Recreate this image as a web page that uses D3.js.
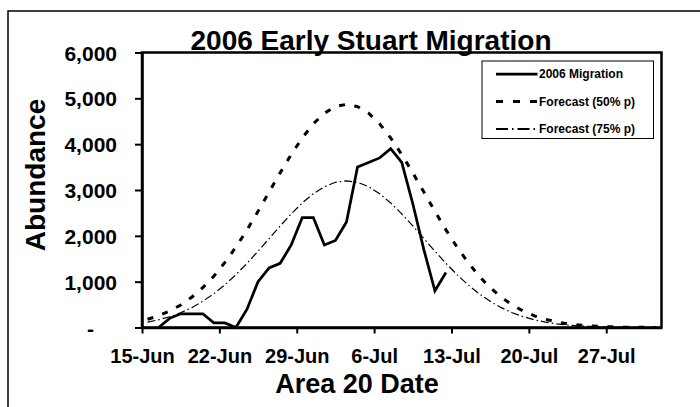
<!DOCTYPE html>
<html><head><meta charset="utf-8">
<script src="https://cdn.jsdelivr.net/npm/d3@7"></script>
<style>
html,body{margin:0;padding:0;background:#fff;}
svg{display:block;font-family:"Liberation Sans",Arial,Helvetica,sans-serif;}
</style></head>
<body><svg id="chart" width="700" height="407"></svg>
<script>
// ---- data ----
const migrationDates = ["2006-06-16","2006-06-17","2006-06-18","2006-06-19","2006-06-20","2006-06-21","2006-06-22","2006-06-23","2006-06-24","2006-06-25","2006-06-26","2006-06-27","2006-06-28","2006-06-29","2006-06-30","2006-07-01","2006-07-02","2006-07-03","2006-07-04","2006-07-05","2006-07-06","2006-07-07","2006-07-08","2006-07-09","2006-07-10","2006-07-11","2006-07-12"];
const migrationValues = [0,200,300,300,300,100,100,0,400,1000,1300,1400,1800,2400,2400,1800,1900,2300,3500,3600,3700,3900,3600,2700,1700,800,1200];
const forecastStart = "2006-06-15";
const forecastEnd = "2006-08-01";
const forecast50 = [180,255,360,490,660,870,1120,1420,1755,2130,2535,2955,3375,3775,4135,4445,4675,4820,4870,4820,4675,4445,4135,3775,3375,2955,2535,2130,1755,1420,1120,870,660,490,360,255,180,120,80,55,35,22,14,8,5,3,2];
const forecast75 = [117,168,235,322,433,571,736,931,1153,1400,1665,1941,2216,2479,2718,2919,3072,3168,3200,3168,3072,2919,2718,2479,2216,1941,1665,1400,1153,931,736,571,433,322,235,168,117,80,54,36,23,14,9,5,3,2,1];
const xTickDates = ["2006-06-15","2006-06-22","2006-06-29","2006-07-06","2006-07-13","2006-07-20","2006-07-27"];
const xTickLabels = ["15-Jun","22-Jun","29-Jun","6-Jul","13-Jul","20-Jul","27-Jul"];
const yTickValues = [0,1000,2000,3000,4000,5000,6000];
const seriesNames = ["2006 Migration","Forecast (50% p)","Forecast (75% p)"];
const chartTitle = "2006 Early Stuart Migration";
const xTitle = "Area 20 Date";
const yTitle = "Abundance";

// ---- layout ----
const svg = d3.select("#chart");
const L = 142, R = 661.5, T = 52.5, B = 327.5;
const parse = d3.utcParse("%Y-%m-%d");
const x = d3.scaleUtc().domain([parse(forecastStart), parse(forecastEnd)]).range([L, R]);
const y = d3.scaleLinear().domain([0, 6000]).range([B, T]);
const mid = d => d3.utcHour.offset(d, 12);

svg.append("rect").attr("width",700).attr("height",407).attr("fill","#fff");
// outer chart border (clipped by image)
svg.append("rect").attr("x",8).attr("y",11).attr("width",720).attr("height",420)
  .attr("fill","none").attr("stroke","#000").attr("stroke-width",1.5);

// plot frame
svg.append("rect").attr("x",L).attr("y",T).attr("width",R-L).attr("height",B-T)
  .attr("fill","#fff").attr("stroke","#000").attr("stroke-width",2.5);

// axes
const yAxis = svg.append("g").attr("transform",`translate(${L},0)`)
  .call(d3.axisLeft(y).tickValues(yTickValues).tickSize(7).tickSizeOuter(0)
    .tickFormat(d => d === 0 ? "-" : d3.format(",")(d)));
yAxis.select(".domain").attr("stroke","#000").attr("stroke-width",2.5);
yAxis.selectAll(".tick line").attr("stroke","#000").attr("stroke-width",2);
yAxis.selectAll(".tick text").attr("x", d => d === 0 ? -48 : -25).attr("dy","0.36em")
  .attr("font-size",21).attr("font-weight","bold").attr("fill","#000")
  .attr("font-family","'Liberation Sans',Arial,sans-serif");

const xAxis = svg.append("g").attr("transform",`translate(0,${B})`)
  .call(d3.axisBottom(x).tickValues(xTickDates.map(parse)).tickSize(6).tickSizeOuter(0)
    .tickFormat((d,i) => xTickLabels[i]));
xAxis.select(".domain").attr("stroke","#000").attr("stroke-width",2.5);
xAxis.selectAll(".tick line").attr("stroke","#000").attr("stroke-width",2);
xAxis.selectAll(".tick text").attr("y",35).attr("dy",0)
  .attr("font-size",20).attr("font-weight","bold").attr("fill","#000")
  .attr("font-family","'Liberation Sans',Arial,sans-serif");

// lines
const line = d3.line().x(d => x(mid(d[0]))).y(d => y(d[1]));
const fDates = d3.utcDay.range(parse(forecastStart), parse(forecastEnd));
const styles = [
  {w:2.75, dash:null},
  {w:3, dash:"6,9.5"},
  {w:1.2, dash:"8,3,1.5,3"}
];
svg.append("path").datum(fDates.map((d,i)=>[d, forecast75[i]]))
  .attr("d",line).attr("fill","none").attr("stroke","#000")
  .attr("stroke-width",styles[2].w).attr("stroke-dasharray",styles[2].dash);
svg.append("path").datum(fDates.map((d,i)=>[d, forecast50[i]]))
  .attr("d",line).attr("fill","none").attr("stroke","#000")
  .attr("stroke-width",styles[1].w).attr("stroke-dasharray",styles[1].dash);
svg.append("path").datum(migrationDates.map((d,i)=>[parse(d), migrationValues[i]]))
  .attr("d",line).attr("fill","none").attr("stroke","#000")
  .attr("stroke-width",styles[0].w).attr("stroke-linejoin","miter");

// legend
const lg = svg.append("g");
lg.append("rect").attr("x",482).attr("y",61).attr("width",171.5).attr("height",77.5)
  .attr("fill","#fff").attr("stroke","#000").attr("stroke-width",1);
const rowY = [74, 101.5, 129];
const legendStyles = [
  {w:2.75, dash:null},
  {w:3, dash:"7,10"},
  {w:2, dash:"12,4,1.5,4"}
];
seriesNames.forEach((n,i) => {
  lg.append("line").attr("x1",496).attr("x2",537.5).attr("y1",rowY[i]).attr("y2",rowY[i])
    .attr("stroke","#000").attr("stroke-width",legendStyles[i].w)
    .attr("stroke-dasharray",legendStyles[i].dash);
  lg.append("text").attr("x",539).attr("y",rowY[i]).attr("dy","0.36em")
    .attr("font-size",12).attr("font-weight","bold").text(n);
});

// titles
svg.append("text").attr("x",371).attr("y",50).attr("text-anchor","middle")
  .attr("font-size",28).attr("font-weight","bold").text(chartTitle);
svg.append("text").attr("x",357).attr("y",393).attr("text-anchor","middle")
  .attr("font-size",27).attr("font-weight","bold").text(xTitle);
svg.append("text").attr("transform","translate(45,175) rotate(-90)").attr("text-anchor","middle")
  .attr("font-size",28).attr("font-weight","bold").text(yTitle);
</script></body></html>
